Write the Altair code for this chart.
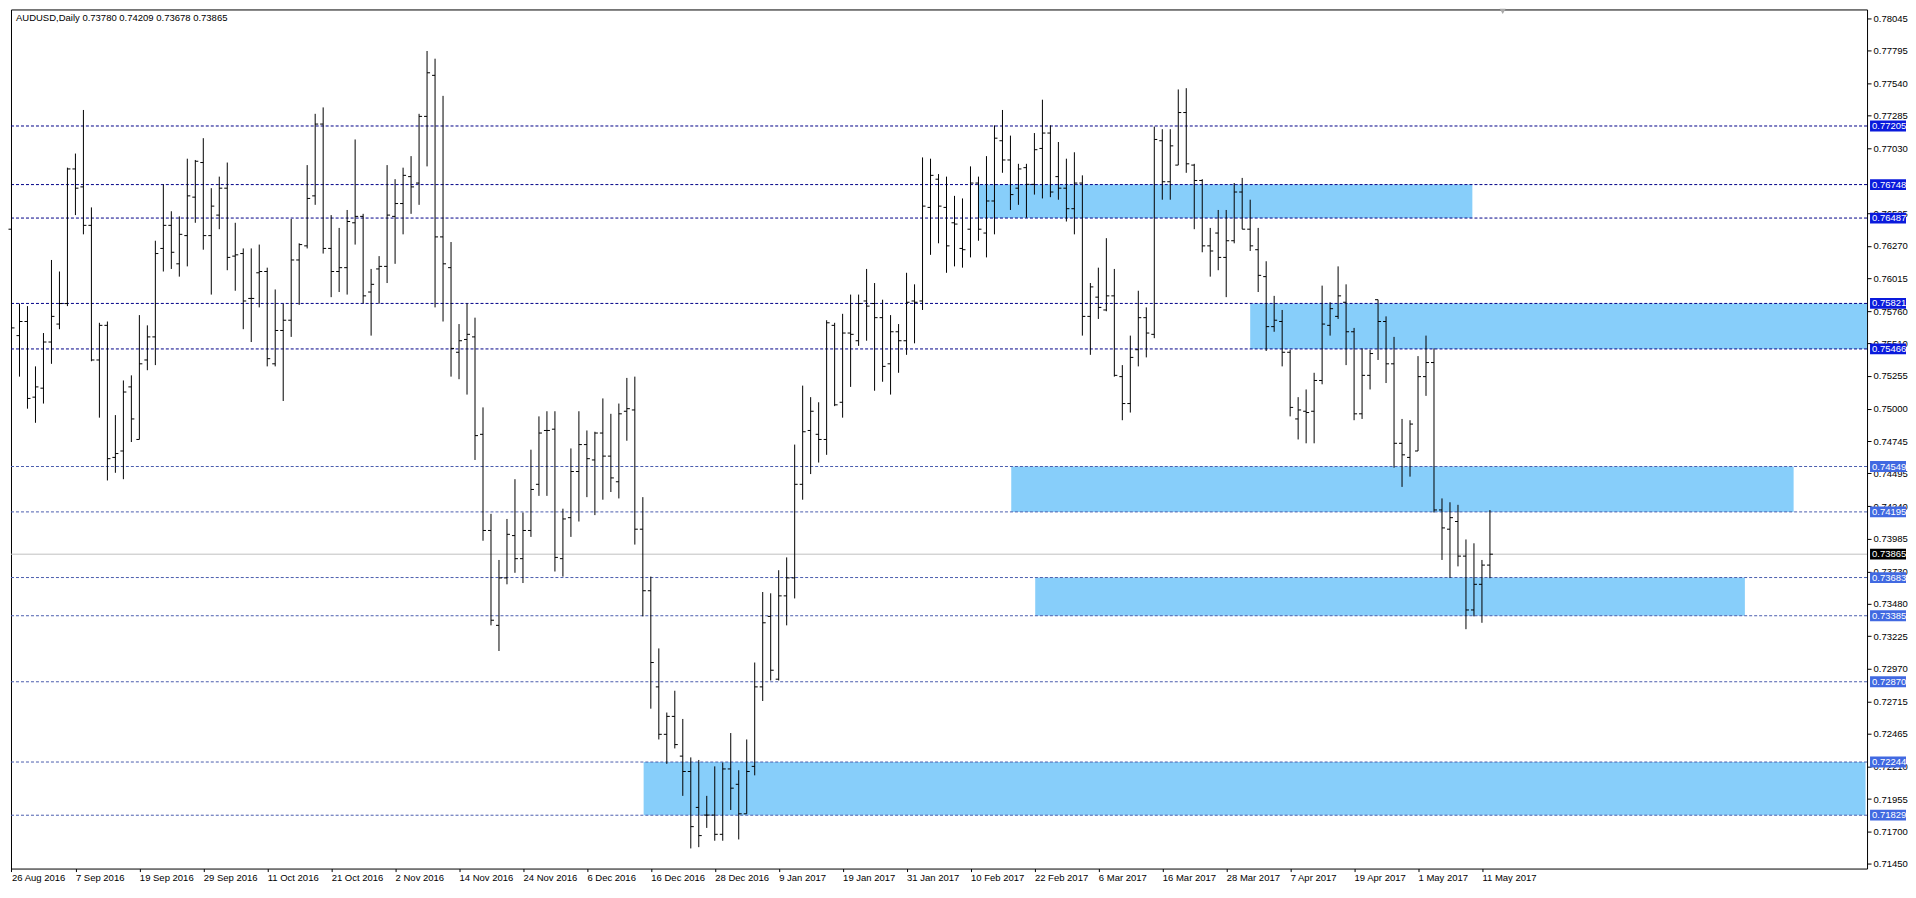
import altair as alt
import pandas as pd

FONT = "Liberation Sans"
TITLE = "AUDUSD,Daily  0.73780 0.74209 0.73678 0.73865"

# ---- daily OHLC bars, 26 Aug 2016 .. 12 May 2017 (one per trading day) ----
opens = [
    0.7640, 0.7557, 0.7568, 0.7509, 0.7516, 0.7552, 0.7566, 0.7582, 0.7687, 0.7673,
    0.7643, 0.7538, 0.7565, 0.7462, 0.7467, 0.7517, 0.7476, 0.7538, 0.7556, 0.7625,
    0.7643, 0.7613, 0.7635, 0.7665, 0.7692, 0.7635, 0.7651, 0.7672, 0.7619, 0.7621,
    0.7586, 0.7606, 0.7607, 0.7535, 0.7561, 0.7569, 0.7616, 0.7627, 0.7666, 0.7722,
    0.7625, 0.7607, 0.7610, 0.7645, 0.7650, 0.7591, 0.7609, 0.7611, 0.7650, 0.7660,
    0.7681, 0.7676, 0.7728, 0.7760, 0.7634, 0.7610, 0.7544, 0.7554, 0.7556, 0.7480,
    0.7405, 0.7331, 0.7368, 0.7401, 0.7383, 0.7405, 0.7441, 0.7483, 0.7484, 0.7383,
    0.7415, 0.7451, 0.7472, 0.7460, 0.7481, 0.7463, 0.7443, 0.7498, 0.7499, 0.7406,
    0.7358, 0.7283, 0.7246, 0.7260, 0.7229, 0.7217, 0.7189, 0.7183, 0.7183, 0.7168,
    0.7219, 0.7207, 0.7184, 0.7221, 0.7283, 0.7338, 0.7289, 0.7354, 0.7368, 0.7441,
    0.7483, 0.7480, 0.7476, 0.7565, 0.7505, 0.7559, 0.7553, 0.7584, 0.7582, 0.7571,
    0.7535, 0.7560, 0.7553, 0.7584, 0.7584, 0.7657, 0.7679, 0.7657, 0.7645, 0.7625,
    0.7640, 0.7676, 0.7637, 0.7662, 0.7709, 0.7694, 0.7672, 0.7688, 0.7675, 0.7703,
    0.7715, 0.7681, 0.7672, 0.7656, 0.7676, 0.7572, 0.7587, 0.7577, 0.7588, 0.7525,
    0.7504, 0.7546, 0.7571, 0.7558, 0.7709, 0.7677, 0.7690, 0.7731, 0.7690, 0.7678,
    0.7627, 0.7637, 0.7618, 0.7631, 0.7669, 0.7640, 0.7624, 0.7603, 0.7564, 0.7568,
    0.7544, 0.7492, 0.7498, 0.7498, 0.7522, 0.7565, 0.7572, 0.7583, 0.7560, 0.7496,
    0.7526, 0.7585, 0.7568, 0.7535, 0.7473, 0.7462, 0.7467, 0.7525, 0.7536, 0.7421,
    0.7406, 0.7412, 0.7385, 0.7343, 0.7363, 0.73780,
]
highs = [
    0.7693, 0.7582, 0.7580, 0.7533, 0.7559, 0.7616, 0.7607, 0.7688, 0.7699, 0.7733,
    0.7657, 0.7567, 0.7568, 0.7495, 0.7522, 0.7526, 0.7573, 0.7565, 0.7631, 0.7675,
    0.7654, 0.7650, 0.7695, 0.7694, 0.7711, 0.7672, 0.7681, 0.7692, 0.7645, 0.7625,
    0.7625, 0.7628, 0.7610, 0.7593, 0.7582, 0.7648, 0.7629, 0.7690, 0.7730, 0.7735,
    0.7651, 0.7641, 0.7655, 0.7710, 0.7652, 0.7609, 0.7619, 0.7690, 0.7679, 0.7688,
    0.7697, 0.7730, 0.7779, 0.7773, 0.7744, 0.7630, 0.7566, 0.7582, 0.7571, 0.7501,
    0.7418, 0.7382, 0.7414, 0.7445, 0.7419, 0.7468, 0.7494, 0.7498, 0.7498, 0.7422,
    0.7469, 0.7498, 0.7483, 0.7482, 0.7508, 0.7496, 0.7504, 0.7524, 0.7525, 0.7431,
    0.7369, 0.7313, 0.7263, 0.7280, 0.7258, 0.7228, 0.7226, 0.7198, 0.7221, 0.7224,
    0.7247, 0.7218, 0.7242, 0.7302, 0.7357, 0.7356, 0.7374, 0.7384, 0.7472, 0.7518,
    0.7509, 0.7505, 0.7569, 0.7567, 0.7574, 0.7589, 0.7589, 0.7609, 0.7598, 0.7585,
    0.7573, 0.7566, 0.7606, 0.7597, 0.7696, 0.7695, 0.7683, 0.7681, 0.7666, 0.7664,
    0.7689, 0.7681, 0.7697, 0.7721, 0.7733, 0.7713, 0.7691, 0.7691, 0.7715, 0.7741,
    0.7721, 0.7708, 0.7695, 0.7700, 0.7682, 0.7598, 0.7610, 0.7633, 0.7609, 0.7534,
    0.7557, 0.7592, 0.7579, 0.7720, 0.7718, 0.7718, 0.7749, 0.7750, 0.7691, 0.7679,
    0.7641, 0.7655, 0.7655, 0.7676, 0.7680, 0.7663, 0.7641, 0.7615, 0.7588, 0.7577,
    0.7546, 0.7509, 0.7515, 0.7528, 0.7596, 0.7583, 0.7611, 0.7597, 0.7563, 0.7547,
    0.7546, 0.7585, 0.7572, 0.7556, 0.7492, 0.7491, 0.7541, 0.7557, 0.7547, 0.7430,
    0.7427, 0.7425, 0.7398, 0.7395, 0.7382, 0.74209,
]
lows = [
    0.7551, 0.7525, 0.7500, 0.7489, 0.7504, 0.7535, 0.7562, 0.7580, 0.7651, 0.7636,
    0.7537, 0.7493, 0.7444, 0.7450, 0.7445, 0.7474, 0.7476, 0.7530, 0.7534, 0.7607,
    0.7609, 0.7603, 0.7611, 0.7645, 0.7624, 0.7589, 0.7640, 0.7608, 0.7592, 0.7562,
    0.7552, 0.7579, 0.7533, 0.7533, 0.7506, 0.7556, 0.7581, 0.7625, 0.7659, 0.7621,
    0.7587, 0.7591, 0.7589, 0.7628, 0.7582, 0.7557, 0.7582, 0.7598, 0.7613, 0.7636,
    0.7652, 0.7659, 0.7689, 0.7579, 0.7568, 0.7525, 0.7523, 0.7511, 0.7460, 0.7397,
    0.7331, 0.7311, 0.7363, 0.7372, 0.7364, 0.7400, 0.7432, 0.7432, 0.7373, 0.7369,
    0.7400, 0.7412, 0.7431, 0.7417, 0.7429, 0.7435, 0.7430, 0.7475, 0.7394, 0.7338,
    0.7266, 0.7242, 0.7223, 0.7235, 0.7198, 0.7157, 0.7158, 0.7173, 0.7163, 0.7163,
    0.7187, 0.7164, 0.7184, 0.7214, 0.7272, 0.7288, 0.7288, 0.7331, 0.7352, 0.7429,
    0.7449, 0.7458, 0.7464, 0.7502, 0.7493, 0.7517, 0.7549, 0.7553, 0.7514, 0.7521,
    0.7511, 0.7528, 0.7542, 0.7551, 0.7577, 0.7620, 0.7629, 0.7606, 0.7611, 0.7610,
    0.7618, 0.7631, 0.7618, 0.7636, 0.7684, 0.7655, 0.7659, 0.7649, 0.7667, 0.7664,
    0.7665, 0.7663, 0.7646, 0.7636, 0.7557, 0.7542, 0.7570, 0.7576, 0.7525, 0.7491,
    0.7497, 0.7533, 0.7540, 0.7555, 0.7663, 0.7663, 0.7690, 0.7684, 0.7640, 0.7622,
    0.7603, 0.7608, 0.7587, 0.7629, 0.7640, 0.7623, 0.7591, 0.7545, 0.7560, 0.7533,
    0.7494, 0.7476, 0.7473, 0.7473, 0.7519, 0.7557, 0.7570, 0.7534, 0.7491, 0.7492,
    0.7515, 0.7538, 0.7520, 0.7454, 0.7439, 0.7447, 0.7467, 0.7510, 0.7419, 0.7382,
    0.7368, 0.7377, 0.7328, 0.7338, 0.7333, 0.73678,
]
closes = [
    0.7563, 0.7568, 0.7508, 0.7517, 0.7552, 0.7572, 0.7582, 0.7687, 0.7672, 0.7643,
    0.7538, 0.7565, 0.7461, 0.7465, 0.7513, 0.7492, 0.7535, 0.7556, 0.7621, 0.7643,
    0.7622, 0.7636, 0.7666, 0.7693, 0.7635, 0.7658, 0.7672, 0.7618, 0.7620, 0.7584,
    0.7586, 0.7607, 0.7539, 0.7561, 0.7569, 0.7616, 0.7628, 0.7664, 0.7722, 0.7625,
    0.7607, 0.7610, 0.7646, 0.7650, 0.7588, 0.7597, 0.7611, 0.7651, 0.7660, 0.7682,
    0.7673, 0.7728, 0.7762, 0.7634, 0.7613, 0.7547, 0.7553, 0.7558, 0.7479, 0.7405,
    0.7335, 0.7368, 0.7402, 0.7383, 0.7405, 0.7437, 0.7481, 0.7483, 0.7384, 0.7414,
    0.7451, 0.7472, 0.7461, 0.7481, 0.7463, 0.7446, 0.7496, 0.7500, 0.7406, 0.7358,
    0.7302, 0.7246, 0.7260, 0.7238, 0.7217, 0.7174, 0.7167, 0.7183, 0.7168, 0.7219,
    0.7204, 0.7184, 0.7217, 0.7283, 0.7333, 0.7296, 0.7354, 0.7368, 0.7441, 0.7482,
    0.7498, 0.7476, 0.7567, 0.7503, 0.7559, 0.7558, 0.7582, 0.7580, 0.7571, 0.7533,
    0.7560, 0.7553, 0.7583, 0.7583, 0.7658, 0.7682, 0.7658, 0.7627, 0.7644, 0.7624,
    0.7676, 0.7640, 0.7662, 0.7711, 0.7694, 0.7667, 0.7687, 0.7675, 0.7702, 0.7715,
    0.7669, 0.7672, 0.7656, 0.7676, 0.7572, 0.7595, 0.7579, 0.7588, 0.7526, 0.7504,
    0.7540, 0.7571, 0.7559, 0.7710, 0.7677, 0.7705, 0.7731, 0.7691, 0.7678, 0.7627,
    0.7623, 0.7618, 0.7631, 0.7669, 0.7640, 0.7627, 0.7604, 0.7564, 0.7569, 0.7544,
    0.7501, 0.7499, 0.7497, 0.7522, 0.7566, 0.7578, 0.7588, 0.7560, 0.7496, 0.7526,
    0.7543, 0.7568, 0.7535, 0.7473, 0.7464, 0.7488, 0.7525, 0.7536, 0.7421, 0.7407,
    0.7415, 0.7385, 0.7343, 0.7363, 0.7378, 0.73865,
]

# ---- time-axis labels (every 8th bar) ----
date_labels = [
    "26 Aug 2016", "7 Sep 2016", "19 Sep 2016", "29 Sep 2016", "11 Oct 2016",
    "21 Oct 2016", "2 Nov 2016", "14 Nov 2016", "24 Nov 2016", "6 Dec 2016",
    "16 Dec 2016", "28 Dec 2016", "9 Jan 2017", "19 Jan 2017", "31 Jan 2017",
    "10 Feb 2017", "22 Feb 2017", "6 Mar 2017", "16 Mar 2017", "28 Mar 2017",
    "7 Apr 2017", "19 Apr 2017", "1 May 2017", "11 May 2017",
]
LABEL_STEP = 8

# ---- price-axis labels visible on the scale ----
price_ticks = [
    0.78045, 0.77795, 0.77540, 0.77285, 0.77030, 0.76525, 0.76270,
    0.76015, 0.75760, 0.75510, 0.75255, 0.75000, 0.74745, 0.74495, 0.74240,
    0.73985, 0.73730, 0.73480, 0.73225, 0.72970, 0.72715, 0.72465, 0.72210,
    0.71955, 0.71700, 0.71450,
]

# ---- horizontal levels ----
levels_dark = [0.77205, 0.76748, 0.76487, 0.75821, 0.75466]
levels_light = [0.74549, 0.74195, 0.73683, 0.73385, 0.72870, 0.72244, 0.71829]
current_price = 0.73865

# ---- rectangle zones (bar index from/to, price top/bottom) ----
zone_from = [121.0, 155.0, 125.1, 128.1, 79.1]
zone_to = [182.8, 232.9, 223.0, 216.9, 232.0]
zone_top = [0.76748, 0.75821, 0.74549, 0.73683, 0.72244]
zone_bottom = [0.76487, 0.75466, 0.74195, 0.73385, 0.71829]

# ---------------------------------------------------------------------------
W, H = 1858, 860
BAR_PX = 8.0
X0 = -0.0625
X_DOMAIN = [X0, X0 + W / BAR_PX]
Y_DOMAIN = [0.71413, 0.78114]
DARK_LINE, DARK_BOX = "#000088", "#0A1ADC"
LIGHT_LINE, LIGHT_BOX = "#4B5DAE", "#4169E1"
BOX_W = 36

bars = pd.DataFrame({
    "idx": list(range(len(opens))),
    "open": opens, "high": highs, "low": lows, "close": closes,
})
zones = pd.DataFrame({"x1": zone_from, "x2": zone_to, "top": zone_top, "bottom": zone_bottom})
dark = pd.DataFrame({"price": levels_dark})
light = pd.DataFrame({"price": levels_light})
cur = pd.DataFrame({"price": [current_price]})
boxes = pd.DataFrame({
    "price": levels_dark + levels_light + [current_price],
    "fill": [DARK_BOX] * len(levels_dark) + [LIGHT_BOX] * len(levels_light) + ["#000000"],
})

xs = alt.Scale(domain=X_DOMAIN, nice=False, zero=False)
ys = alt.Scale(domain=Y_DOMAIN, nice=False, zero=False)

label_expr = "[" + ",".join("'%s'" % s for s in date_labels) + "][round(datum.value / %d)]" % LABEL_STEP
x_axis = alt.Axis(
    values=list(range(0, LABEL_STEP * len(date_labels), LABEL_STEP)),
    labelExpr=label_expr, grid=False, domain=False, tickSize=3, tickColor="black",
    labelAlign="left", labelBaseline="top", labelPadding=1, labelFont=FONT,
    labelFontSize=9.5, labelColor="black", title=None, labelOverlap=False,
    labelFlush=False, zindex=0,
)
y_axis = alt.Axis(
    orient="right", values=price_ticks, format=".5f", grid=False, domain=False,
    tickSize=4, tickColor="black", labelPadding=2, labelFont=FONT,
    labelFontSize=9.5, labelColor="black", title=None, labelOverlap=False,
    labelFlush=False, zindex=0,
)


def X(field):
    return alt.X(field, scale=xs, axis=x_axis)


def Y(field):
    return alt.Y(field, scale=ys, axis=y_axis)


zone_layer = alt.Chart(zones).mark_rect(color="#87CEFA", clip=True).encode(
    x=X("x1:Q"), x2="x2:Q", y=Y("top:Q"), y2="bottom:Q",
)
dark_layer = alt.Chart(dark).mark_rule(color=DARK_LINE, strokeDash=[3, 2], strokeWidth=1).encode(
    y=Y("price:Q")
)
light_layer = alt.Chart(light).mark_rule(color=LIGHT_LINE, strokeDash=[3, 2], strokeWidth=1).encode(
    y=Y("price:Q")
)
cur_layer = alt.Chart(cur).mark_rule(color="#C0C0C0", strokeWidth=1).encode(y=Y("price:Q"))
wick_layer = alt.Chart(bars).mark_rule(color="black", strokeWidth=1).encode(
    x=X("idx:Q"), y=Y("low:Q"), y2="high:Q",
)
open_layer = alt.Chart(bars).mark_rule(color="black", strokeWidth=1, xOffset=-3, x2Offset=0).encode(
    x=X("idx:Q"), x2="idx:Q", y=Y("open:Q"),
)
close_layer = alt.Chart(bars).mark_rule(color="black", strokeWidth=1, xOffset=0, x2Offset=3).encode(
    x=X("idx:Q"), x2="idx:Q", y=Y("close:Q"),
)
box_layer = alt.Chart(boxes).mark_point(
    shape="M-1,-0.3L1,-0.3L1,0.3L-1,0.3Z", filled=True, size=BOX_W * BOX_W, opacity=1, strokeWidth=0
).encode(
    x=alt.value(W + 3 + BOX_W / 2),
    y=Y("price:Q"),
    color=alt.Color("fill:N", scale=None),
)
box_text = alt.Chart(boxes).mark_text(
    align="left", baseline="middle", color="white", font=FONT, fontSize=9.5
).encode(
    x=alt.value(W + 5),
    y=Y("price:Q"),
    text=alt.Text("price:Q", format=".5f"),
)
title_layer = alt.Chart(pd.DataFrame({"t": [TITLE]})).mark_text(
    align="left", baseline="middle", color="black", font=FONT, fontSize=9.5
).encode(x=alt.value(5), y=alt.value(9), text="t:N")
shift_layer = alt.Chart(pd.DataFrame({"idx": [186.6]})).mark_point(
    shape="triangle-down", filled=True, color="#A8A8A8", size=36, opacity=1
).encode(x=X("idx:Q"), y=alt.value(2))

chart = alt.layer(
    zone_layer, dark_layer, light_layer, cur_layer, wick_layer, open_layer,
    close_layer, box_layer, box_text, title_layer, shift_layer,
).properties(
    width=W, height=H, padding=0, background="white"
).configure_view(stroke="black", strokeWidth=1)

chart.save("out.html", embed_options={"renderer": "svg", "actions": False})
